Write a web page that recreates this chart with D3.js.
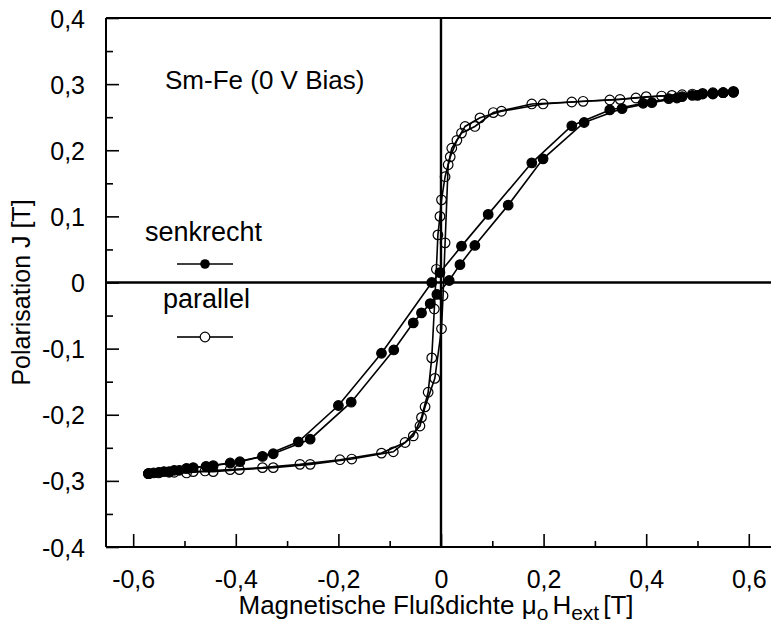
<!DOCTYPE html>
<html>
<head>
<meta charset="utf-8">
<script src="https://cdn.jsdelivr.net/npm/d3@7"></script>
<style>
  html, body { margin: 0; padding: 0; background: #fff; }
  svg { display: block; font-family: "Liberation Sans", Arial, sans-serif; }
</style>
</head>
<body>
<svg id="chart" width="771" height="628"></svg>
<script>
// Hysteresis loops of Sm-Fe, field in T, polarisation in T.
// Each loop: branch measured with decreasing field, then with increasing field.
const senkrechtDown = [
  [0.57, 0.288], [0.55, 0.287], [0.53, 0.286], [0.51, 0.285], [0.49, 0.283],
  [0.47, 0.281], [0.444, 0.278], [0.394, 0.271], [0.329, 0.261], [0.255, 0.237],
  [0.177, 0.181], [0.092, 0.103], [0.040, 0.055], [-0.002, 0.015], [-0.018, 0.0],
  [-0.116, -0.107], [-0.200, -0.186], [-0.278, -0.241], [-0.348, -0.263],
  [-0.411, -0.273], [-0.458, -0.278], [-0.496, -0.281], [-0.52, -0.284],
  [-0.54, -0.286], [-0.56, -0.288], [-0.57, -0.289]
];
const senkrechtUp = [
  [-0.57, -0.289], [-0.55, -0.287], [-0.53, -0.286], [-0.51, -0.284], [-0.483, -0.280],
  [-0.444, -0.277], [-0.392, -0.271], [-0.327, -0.259], [-0.255, -0.237], [-0.175, -0.181],
  [-0.092, -0.102], [-0.054, -0.061], [-0.038, -0.046], [-0.021, -0.032], [-0.008, -0.018],
  [0.016, 0.003], [0.037, 0.027], [0.066, 0.056], [0.131, 0.117], [0.199, 0.187],
  [0.279, 0.242], [0.353, 0.263], [0.411, 0.272], [0.46, 0.279], [0.50, 0.283],
  [0.53, 0.285], [0.55, 0.287], [0.57, 0.288]
];
const parallelDown = [
  [0.57, 0.289], [0.53, 0.287], [0.49, 0.285], [0.45, 0.283], [0.40, 0.281],
  [0.349, 0.277], [0.277, 0.274], [0.199, 0.270], [0.118, 0.259], [0.076, 0.249],
  [0.047, 0.236], [0.031, 0.215], [0.018, 0.190], [0.008, 0.160], [0.001, 0.125],
  [-0.002, 0.100], [-0.006, 0.072], [-0.009, 0.020], [-0.013, -0.040], [-0.018, -0.114],
  [-0.025, -0.166], [-0.038, -0.204], [-0.054, -0.232], [-0.093, -0.256],
  [-0.174, -0.267], [-0.255, -0.275], [-0.327, -0.280], [-0.393, -0.283],
  [-0.444, -0.286], [-0.483, -0.286], [-0.52, -0.287], [-0.55, -0.288], [-0.57, -0.289]
];
const parallelUp = [
  [-0.57, -0.289], [-0.53, -0.287], [-0.496, -0.288], [-0.460, -0.285], [-0.411, -0.283],
  [-0.348, -0.280], [-0.275, -0.275], [-0.197, -0.268], [-0.116, -0.258], [-0.070, -0.242],
  [-0.041, -0.217], [-0.031, -0.188], [-0.012, -0.145], [0.001, -0.070], [0.004, -0.020],
  [0.008, 0.060], [0.014, 0.178], [0.021, 0.203], [0.040, 0.226], [0.066, 0.236],
  [0.102, 0.257], [0.177, 0.270], [0.255, 0.273], [0.329, 0.276], [0.38, 0.279],
  [0.43, 0.282], [0.47, 0.284], [0.51, 0.286], [0.55, 0.287], [0.57, 0.288]
];

const xMajor = [-0.6, -0.4, -0.2, 0, 0.2, 0.4, 0.6];
const xMinor = [-0.5, -0.3, -0.1, 0.1, 0.3, 0.5];
const yMajor = [-0.4, -0.3, -0.2, -0.1, 0, 0.1, 0.2, 0.3, 0.4];
const yMinor = [-0.35, -0.25, -0.15, -0.05, 0.05, 0.15, 0.25, 0.35];

const fmt = v => Math.abs(v) < 1e-9 ? "0" : (v < 0 ? "-" : "") + Math.abs(v).toFixed(1).replace(".", ",");

const svg = d3.select("#chart");
const plotLeft = 106, plotTop = 18, plotBottom = 547;

const x = d3.scaleLinear().domain([-0.653, 0.66]).range([plotLeft, plotLeft + 1.313 * 513]);
const y = d3.scaleLinear().domain([-0.4, 0.4]).range([plotBottom, plotTop]);
const plotRight = x.range()[1];

// frame (left, top, bottom)
const frame = svg.append("g").attr("stroke", "#000").attr("stroke-width", 2);
frame.append("line").attr("x1", plotLeft).attr("x2", plotRight).attr("y1", plotTop).attr("y2", plotTop);
frame.append("line").attr("x1", plotLeft).attr("x2", plotLeft).attr("y1", plotTop).attr("y2", plotBottom);
frame.append("line").attr("x1", plotLeft).attr("x2", plotRight).attr("y1", plotBottom).attr("y2", plotBottom);

// inward ticks
const yAxis = d3.axisLeft(y).tickValues(yMajor).tickSize(-13).tickFormat(fmt).tickPadding(21);
const gy = svg.append("g").attr("transform", `translate(${plotLeft},0)`).call(yAxis);
gy.select(".domain").remove();
gy.selectAll("line").attr("stroke-width", 1.6);
gy.selectAll("text").attr("font-size", 25).attr("font-family", "Liberation Sans, Arial, sans-serif")
  .attr("fill", "#000").attr("dy", "0.36em");
const gyMinor = svg.append("g").attr("transform", `translate(${plotLeft},0)`)
  .call(d3.axisLeft(y).tickValues(yMinor).tickSize(-7).tickFormat(""));
gyMinor.select(".domain").remove();
gyMinor.selectAll("line").attr("stroke-width", 1.6);

const xAxis = d3.axisBottom(x).tickValues(xMajor).tickSize(-13).tickFormat(fmt).tickPadding(23);
const gx = svg.append("g").attr("transform", `translate(0,${plotBottom})`).call(xAxis);
gx.select(".domain").remove();
gx.selectAll("line").attr("stroke-width", 1.6);
gx.selectAll("text").attr("font-size", 25).attr("font-family", "Liberation Sans, Arial, sans-serif").attr("fill", "#000");
const gxMinor = svg.append("g").attr("transform", `translate(0,${plotBottom})`)
  .call(d3.axisBottom(x).tickValues(xMinor).tickSize(-6).tickFormat(""));
gxMinor.select(".domain").remove();
gxMinor.selectAll("line").attr("stroke-width", 1.6);

// zero lines
svg.append("line").attr("x1", x(0)).attr("x2", x(0)).attr("y1", plotTop).attr("y2", plotBottom)
  .attr("stroke", "#000").attr("stroke-width", 2.4);
svg.append("line").attr("x1", plotLeft).attr("x2", plotRight).attr("y1", y(0)).attr("y2", y(0))
  .attr("stroke", "#000").attr("stroke-width", 2.4);

// curves
const line = d3.line().x(d => x(d[0])).y(d => y(d[1]));
const series = [
  { data: senkrechtDown, filled: true },
  { data: senkrechtUp, filled: true },
  { data: parallelDown, filled: false },
  { data: parallelUp, filled: false }
];
series.forEach(s => {
  svg.append("path").attr("d", line(s.data)).attr("fill", "none")
    .attr("stroke", "#000").attr("stroke-width", 1.6);
});
series.forEach(s => {
  svg.append("g").selectAll("circle").data(s.data).join("circle")
    .attr("cx", d => x(d[0])).attr("cy", d => y(d[1])).attr("r", 4.8)
    .attr("fill", s.filled ? "#000" : "#fff")
    .attr("fill-opacity", s.filled ? 1 : 0)
    .attr("stroke", "#000").attr("stroke-width", 1.2);
});

// annotation and legend
svg.append("text").attr("x", 165).attr("y", 89).attr("font-size", 26).text("Sm-Fe (0 V Bias)");

svg.append("text").attr("x", 145).attr("y", 241).attr("font-size", 27).text("senkrecht");
svg.append("line").attr("x1", 177).attr("x2", 233).attr("y1", 264).attr("y2", 264)
  .attr("stroke", "#000").attr("stroke-width", 1.6);
svg.append("circle").attr("cx", 205).attr("cy", 264).attr("r", 4.8).attr("fill", "#000");

svg.append("text").attr("x", 163).attr("y", 308).attr("font-size", 27).text("parallel");
svg.append("line").attr("x1", 177).attr("x2", 200).attr("y1", 337).attr("y2", 337)
  .attr("stroke", "#000").attr("stroke-width", 1.6);
svg.append("line").attr("x1", 210).attr("x2", 233).attr("y1", 337).attr("y2", 337)
  .attr("stroke", "#000").attr("stroke-width", 1.6);
svg.append("circle").attr("cx", 205).attr("cy", 337).attr("r", 4.8).attr("fill", "#fff")
  .attr("stroke", "#000").attr("stroke-width", 1.2);

// axis titles
const xt = svg.append("text").attr("x", 436).attr("y", 614).attr("text-anchor", "middle").attr("font-size", 26);
xt.append("tspan").text("Magnetische Flußdichte μ");
xt.append("tspan").attr("font-size", 21).attr("dy", 6).text("o");
xt.append("tspan").attr("dy", -6).attr("dx", 4).text("H");
xt.append("tspan").attr("font-size", 21).attr("dy", 6).text("ext");
xt.append("tspan").attr("dy", -6).attr("dx", 4).text("[T]");

svg.append("text").attr("transform", `translate(30,${y(0) + 10}) rotate(-90)`)
  .attr("text-anchor", "middle").attr("font-size", 25).text("Polarisation J [T]");
</script>
</body>
</html>
